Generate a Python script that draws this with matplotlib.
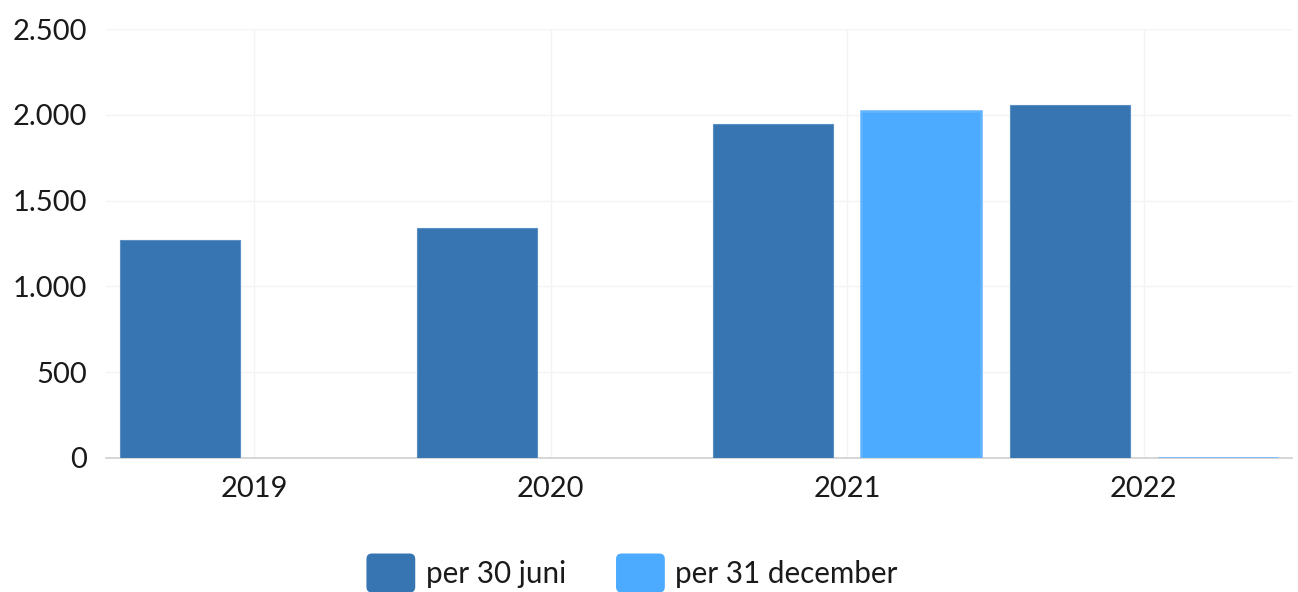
import matplotlib
matplotlib.use("Agg")
import matplotlib.pyplot as plt
import numpy as np
from matplotlib.patches import FancyBboxPatch, Patch
from matplotlib.legend_handler import HandlerPatch
from matplotlib.ticker import FuncFormatter

plt.rcParams['font.family'] = ['Lato', 'DejaVu Sans']

categories = ["2019", "2020", "2021", "2022"]
per_30_juni = [1270, 1340, 1948, 2057]
per_31_december = [np.nan, np.nan, 2022, 0]
series_names = ["per 30 juni", "per 31 december"]
y_ticks = [0, 500, 1000, 1500, 2000, 2500]

c_juni = "#3775b2"
c_dec = "#4dabff"
text_c = "#1a1a1a"

fig = plt.figure(figsize=(12.98, 5.92), dpi=100)
ax = fig.add_axes([106/1298, 1-458/592, (1292-106)/1298, (458-29)/592])

x = np.arange(len(categories))
w = 0.405
ax.bar(x - 0.25, per_30_juni, width=w, color=c_juni, edgecolor="#5a8fc4", linewidth=0.8, zorder=3)
ax.bar(x + 0.25, per_31_december, width=w, color=c_dec, edgecolor="#64b3ff", linewidth=1.8, zorder=3)

ax.set_xlim(-0.5, 3.5)
ax.set_ylim(0, 2500)
ax.set_xticks(x)
ax.set_xticklabels(categories)
ax.set_yticks(y_ticks)
ax.yaxis.set_major_formatter(FuncFormatter(lambda v, p: f"{int(v):,}".replace(",", ".")))
ax.grid(True, color="#f4f4f4", linewidth=1.0, zorder=0)
ax.set_axisbelow(True)
for s in ["top", "right", "left"]:
    ax.spines[s].set_visible(False)
ax.spines["bottom"].set_color("#d0d0d0")
ax.spines["bottom"].set_linewidth(1.2)
ax.spines["bottom"].set_zorder(2)
ax.tick_params(axis="both", length=0, labelsize=21, colors=text_c)
ax.tick_params(axis="x", pad=13)
ax.tick_params(axis="y", pad=13.5)


class RoundHandler(HandlerPatch):
    def create_artists(self, legend, orig_handle, xdescent, ydescent, width, height, fontsize, trans):
        p = FancyBboxPatch((-xdescent + 4, -ydescent + 4), width - 8, height - 8,
                           boxstyle="round,pad=4", facecolor=orig_handle.get_facecolor(),
                           edgecolor="none", transform=trans)
        return [p]

handles = [Patch(facecolor=c_juni), Patch(facecolor=c_dec)]
leg = fig.legend(handles, series_names, loc="center", bbox_to_anchor=(632/1298, 1-573/592),
                 ncol=2, frameon=False, fontsize=21.3, handlelength=1.65, handleheight=1.65,
                 handletextpad=0.35, columnspacing=1.7, borderpad=0,
                 handler_map={Patch: RoundHandler()})
for t in leg.get_texts():
    t.set_color(text_c)

fig.savefig("out.png", dpi=100)
